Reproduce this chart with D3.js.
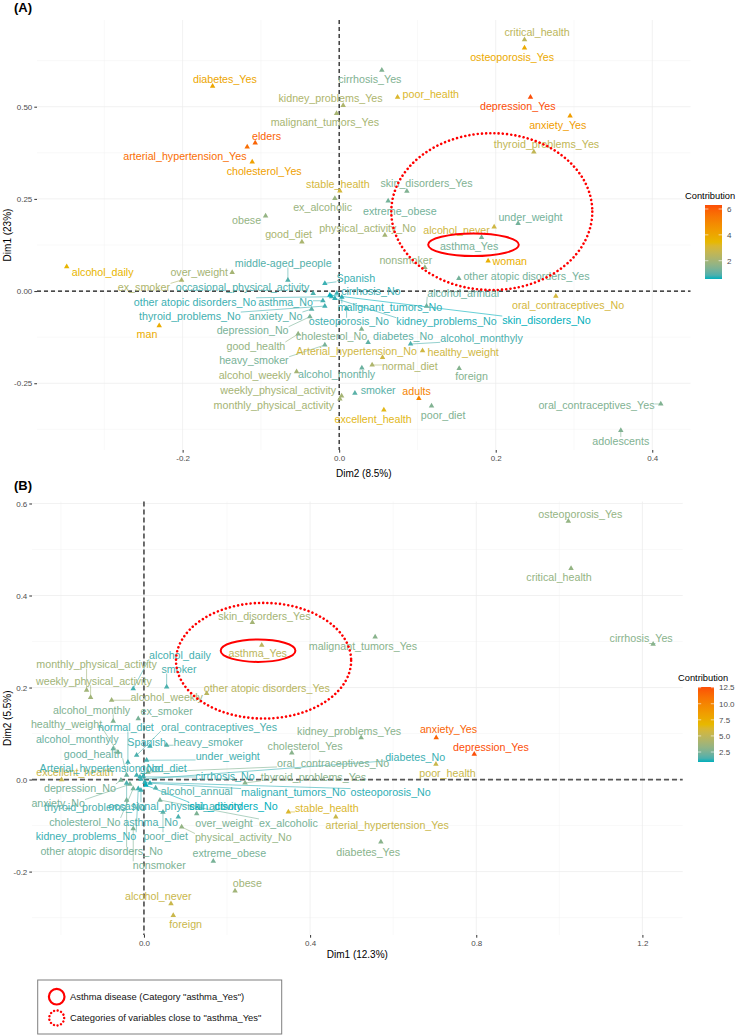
<!DOCTYPE html>
<html><head><meta charset="utf-8">
<script src="https://cdn.jsdelivr.net/npm/d3@7"></script>
<style>body{margin:0;background:#fff} text{font-family:"Liberation Sans",Arial,Helvetica,sans-serif}</style>
</head><body><svg id="chart" width="737" height="1036"></svg>
<script>
// ---------------- Panel A data (x = Dim2, y = Dim1) ----------------
const categoriesA = ["diabetes_Yes","cirrhosis_Yes","kidney_problems_Yes","poor_health","malignant_tumors_Yes","elders","arterial_hypertension_Yes","cholesterol_Yes","stable_health","critical_health","osteoporosis_Yes","depression_Yes","anxiety_Yes","thyroid_problems_Yes","skin_disorders_Yes","ex_alcoholic","obese","good_diet","physical_activity_No","extreme_obese","alcohol_daily","over_weight","middle-aged_people","ex_smoker","occasional_physical_activity","Spanish","cirrhosis_No","other atopic disorders_No","asthma_No","malignant_tumors_No","thyroid_problems_No","anxiety_No","osteoporosis_No","depression_No","kidney_problems_No","skin_disorders_No","cholesterol_No","diabetes_No","alcohol_monthyly","Arterial_hypertension_No","healthy_weight","good_health","heavy_smoker","normal_diet","foreign","alcohol_weekly","alcohol_monthly","weekly_physical_activity","monthly_physical_activity","smoker","adults","excellent_health","poor_diet","oral_contraceptives_Yes","adolescents","alcohol_never","under_weight","asthma_Yes","woman","nonsmoker","other atopic disorders_Yes","alcohol_annual","oral_contraceptives_No","man"];
const dim2A = [-0.1617,0.0545,0.0051,0.0746,-0.0033,-0.1073,-0.1175,-0.1111,0.0009,0.2368,0.2368,0.2444,0.295,0.2487,0.0865,-0.0055,-0.094,-0.0476,0.0584,0.0626,-0.3481,-0.1367,-0.0655,-0.2013,-0.0332,-0.0183,-0.0029,-0.0097,-0.0208,0.0034,-0.0183,-0.0352,0.0095,-0.0374,-0.0055,-0.0119,0.0286,0.037,0.0912,0.0554,0.1065,-0.0524,-0.0183,0.0421,0.1533,-0.0544,0.029,0.0031,0.0009,0.0201,0.1018,0.0571,0.118,0.4109,0.3598,0.198,0.2286,0.1819,0.1903,0.1095,0.1529,0.1116,0.2768,-0.2299];
const dim1A = [0.5556,0.5989,0.5033,0.5257,0.4816,0.4019,0.3911,0.3504,0.2718,0.6821,0.6593,0.5257,0.4751,0.3775,0.271,0.2512,0.2041,0.1336,0.1518,0.2447,0.0659,0.0507,0.0298,0.0298,-0.0062,0.0209,-0.0054,-0.0154,-0.0263,-0.0163,-0.0407,-0.0488,-0.0469,-0.0696,-0.0198,-0.0108,-0.103,-0.139,-0.1436,-0.1797,-0.1618,-0.1165,-0.1463,-0.2005,-0.2095,-0.2187,-0.2087,-0.2846,-0.2927,-0.2772,-0.2908,-0.3225,-0.3117,-0.3062,-0.378,0.1743,0.1835,0.1455,0.0821,0.0642,0.0344,-0.0407,-0.0136,-0.094];
const contribA = [4.02,1.44,2.19,3.16,2.07,5.85,5.62,4.19,2.99,2.47,3.91,6.31,4.31,2.59,1.44,1.84,1.73,2.13,2.02,1.27,3.56,2.02,0.93,2.19,0.87,0.76,0.76,0.76,0.81,0.70,0.81,0.99,0.81,1.33,0.70,0.585,1.50,1.04,0.87,2.88,2.88,1.73,1.33,2.19,1.50,2.02,1.16,2.02,2.02,0.99,5.05,3.33,1.44,1.44,1.44,2.88,1.27,1.33,3.73,1.73,1.27,1.16,2.99,3.85];
// label anchor positions (data units) as placed by the repel layout
const labelXA = [-0.146,0.0392,-0.011,0.1171,-0.0183,-0.0927,-0.1971,-0.0958,-0.0017,0.2529,0.221,0.2282,0.2793,0.2649,0.1116,-0.0212,-0.1183,-0.0646,0.0363,0.0775,-0.3022,-0.1788,-0.0715,-0.2494,-0.1234,0.0213,0.0405,-0.1843,-0.0685,0.0647,-0.1907,-0.0812,0.0124,-0.1106,0.1372,0.2649,-0.0097,0.0817,0.1819,0.0222,0.1584,-0.1064,-0.1089,0.0903,0.1691,-0.1077,-0.0033,-0.0779,-0.0834,0.0498,0.0989,0.0434,0.1328,0.3287,0.3598,0.1499,0.2444,0.166,0.218,0.0852,0.2393,0.1584,0.2925,-0.2456];
const labelYA = [0.5745,0.5745,0.523,0.5339,0.458,0.4209,0.3659,0.326,0.29,0.7019,0.635,0.5014,0.4499,0.3984,0.2919,0.2268,0.1924,0.1545,0.1699,0.2176,0.0507,0.0507,0.0751,0.01,0.01,0.036,0.0,-0.029,-0.029,-0.0442,-0.0678,-0.0678,-0.0832,-0.1076,-0.0832,-0.0786,-0.1238,-0.122,-0.1282,-0.1645,-0.1672,-0.149,-0.1889,-0.2051,-0.2322,-0.2276,-0.2257,-0.2702,-0.3089,-0.2683,-0.2729,-0.3477,-0.336,-0.3089,-0.4065,0.1653,0.2014,0.1228,0.0821,0.084,0.0415,-0.0046,-0.0398,-0.1173];
const xTicksA = [-0.2,0,0.2,0.4], xMinorA = [-0.3,-0.1,0.1,0.3];
const yTicksA = [-0.25,0,0.25,0.5], yMinorA = [-0.375,-0.125,0.125,0.375,0.625];
const legendTicksA = [2,4,6];

// ---------------- Panel B data (x = Dim1, y = Dim2) ----------------
const categoriesB = ["skin_disorders_Yes","asthma_Yes","malignant_tumors_Yes","alcohol_daily","osteoporosis_Yes","critical_health","cirrhosis_Yes","monthly_physical_activity","weekly_physical_activity","alcohol_weekly","smoker","other atopic disorders_Yes","alcohol_monthly","ex_smoker","healthy_weight","normal_diet","oral_contraceptives_Yes","alcohol_monthyly","Spanish","heavy_smoker","good_health","under_weight","kidney_problems_Yes","cholesterol_Yes","oral_contraceptives_No","diabetes_No","anxiety_Yes","depression_Yes","poor_health","cirrhosis_No","thyroid_problems_Yes","malignant_tumors_No","osteoporosis_No","alcohol_annual","excellent_health","Arterial_hypertension_No","good_diet","depression_No","anxiety_No","thyroid_problems_No","occasional_physical_activity","skin_disorders_No","stable_health","arterial_hypertension_Yes","cholesterol_No","asthma_No","over_weight","ex_alcoholic","physical_activity_No","poor_diet","kidney_problems_No","other atopic disorders_No","extreme_obese","nonsmoker","diabetes_Yes","obese","alcohol_never","foreign"];
const dim1B = [0.261,0.2836,0.5566,-0.0258,1.0217,1.0282,1.2258,-0.1381,-0.1284,-0.0778,0.0547,0.1511,-0.074,-0.0137,-0.0627,-0.0386,-0.0176,-0.074,0.0145,0.0547,-0.0417,0.0065,0.5229,0.3559,0.0096,-0.0072,0.7036,0.7952,0.7029,-0.0096,0.2434,0.0145,0.0024,0.0282,-0.1983,-0.0176,-0.0017,-0.0554,-0.0337,-0.0417,-0.0072,0.0048,0.3477,0.4619,-0.0258,0.0827,0.127,0.0386,0.0908,0.0458,-0.0137,-0.0417,0.167,-0.0258,0.5704,0.2193,0.0651,0.0706];
const dim2B = [0.3413,0.292,0.31,0.1978,0.5615,0.4587,0.2941,0.1941,0.1783,0.1724,0.2013,0.187,0.1267,0.1326,0.0593,0.0376,0.0528,0.0674,0.0724,0.0746,0.0093,0.042,0.0913,0.0578,0.0159,0.0007,0.0913,0.055,0.0333,0.0057,-0.0074,-0.008,-0.0059,-0.0183,0,0.0093,0.0072,-0.0015,-0.0102,-0.008,-0.0233,-0.0124,-0.0704,-0.0813,-0.0196,-0.0813,-0.0739,-0.0446,-0.103,-0.0711,-0.0196,-0.045,-0.1776,-0.1065,-0.1357,-0.2422,-0.2696,-0.295];
const contribB = [3.86,4.79,2.93,1.42,3.28,3.28,2.93,3.75,3.75,3.75,1.53,4.68,2.70,2.46,2.81,1.42,1.53,2.12,1.42,1.77,2.12,1.42,2.93,2.93,2.70,1.30,11.67,12.6,5.38,1.30,2.93,1.18,1.18,1.65,5.38,1.42,1.30,2.46,2.46,1.53,1.30,0.95,6.19,5.38,2.35,1.53,2.58,2.46,3.28,1.88,1.30,2.46,2.46,2.58,2.93,3.75,5.38,5.38];
const labelXB = [0.2899,0.274,0.5272,0.0867,1.0506,0.9993,1.1969,-0.114,-0.1205,0.0547,0.0843,0.2957,-0.126,0.0547,-0.1863,-0.0434,0.1807,-0.1607,0.0065,0.1549,-0.1222,0.2017,0.494,0.388,0.4554,0.653,0.7333,0.8354,0.7308,0.1952,0.408,0.3598,0.594,0.127,-0.1663,-0.106,0.0465,-0.1542,-0.2065,-0.1181,0.0747,0.2152,0.4402,0.5855,-0.1422,0.0161,0.1928,0.3477,0.2393,0.0523,-0.1398,-0.1019,0.2055,0.0369,0.5398,0.2489,0.0345,0.1005];
const labelYB = [0.3557,0.2739,0.2898,0.2702,0.5761,0.4391,0.3065,0.25,0.2137,0.1796,0.2391,0.1991,0.1507,0.1485,0.1202,0.113,0.1143,0.087,0.0817,0.0817,0.055,0.0513,0.1057,0.073,0.0361,0.0491,0.1087,0.0709,0.0143,0.0072,0.0057,-0.0283,-0.0283,-0.0254,0.0165,0.0252,0.0239,-0.0183,-0.0522,-0.0596,-0.058,-0.058,-0.063,-0.0993,-0.0922,-0.0922,-0.0943,-0.0943,-0.126,-0.1233,-0.1233,-0.1552,-0.1609,-0.1863,-0.1574,-0.2261,-0.253,-0.3152];
const xTicksB = [0,0.4,0.8,1.2], xMinorB = [-0.2,0.2,0.6,1.0];
const yTicksB = [-0.2,0,0.2,0.4,0.6], yMinorB = [-0.3,-0.1,0.1,0.3,0.5];
const legendTicksB = [2.5,5,7.5,10,12.5];

// highlighted regions (data units)
const asthmaRingA = {cx:0.1716, cy:0.1255, rx:0.0579, ry:0.0306};
const closeRingA  = {cx:0.195,  cy:0.2154, rx:0.1284, ry:0.2127};
const asthmaRingB = {cx:0.2747, cy:0.28,   rx:0.0899, ry:0.0243};
const closeRingB  = {cx:0.288,  cy:0.2583, rx:0.2108, ry:0.1257};

const svg = d3.select("#chart");
svg.append("rect").attr("width",737).attr("height",1036).attr("fill","#fff");

function expand(ext){const d=(ext[1]-ext[0])*0.05;return [ext[0]-d,ext[1]+d];}

function panel(o){
  const g = svg.append("g");
  const x = d3.scaleLinear().domain(expand(d3.extent(o.xs))).range([o.left,o.right]);
  const y = d3.scaleLinear().domain(expand(d3.extent(o.ys))).range([o.bottom,o.top]);
  const ext = d3.extent(o.cs);
  const col = d3.scaleLinear().domain([ext[0],(ext[0]+ext[1])/2,ext[1]])
     .range(["#00AFBB","#E7B800","#FC4E07"]).interpolate(d3.interpolateLab);
  // grid
  const grid = g.append("g");
  o.xMinor.forEach(v=>grid.append("line").attr("x1",x(v)).attr("x2",x(v)).attr("y1",o.top).attr("y2",o.bottom).attr("stroke","#f2f2f2").attr("stroke-width",0.5));
  o.yMinor.forEach(v=>grid.append("line").attr("y1",y(v)).attr("y2",y(v)).attr("x1",o.left).attr("x2",o.right).attr("stroke","#f2f2f2").attr("stroke-width",0.5));
  o.xTicks.forEach(v=>grid.append("line").attr("x1",x(v)).attr("x2",x(v)).attr("y1",o.top).attr("y2",o.bottom).attr("stroke","#ebebeb").attr("stroke-width",0.7));
  o.yTicks.forEach(v=>grid.append("line").attr("y1",y(v)).attr("y2",y(v)).attr("x1",o.left).attr("x2",o.right).attr("stroke","#ebebeb").attr("stroke-width",0.7));
  // axes
  const ax = g.append("g").attr("transform",`translate(0,${o.bottom})`)
    .call(d3.axisBottom(x).tickValues(o.xTicks).tickFormat(d=>d.toFixed(o.xDec)).tickSize(2.7).tickPadding(2.5));
  const ay = g.append("g").attr("transform",`translate(${o.left},0)`)
    .call(d3.axisLeft(y).tickValues(o.yTicks).tickFormat(d=>d.toFixed(o.yDec)).tickSize(2.7).tickPadding(2));
  [ax,ay].forEach(a=>{a.select(".domain").remove();a.selectAll("line").attr("stroke","#333");
    a.selectAll("text").attr("fill","#4d4d4d").style("font-size","8px").style("font-family","Liberation Sans, Arial, sans-serif");});
  // zero lines
  g.append("line").attr("x1",x(0)).attr("x2",x(0)).attr("y1",o.top).attr("y2",o.bottom)
    .attr("stroke",o.zeroColor).attr("stroke-width",o.zeroW).attr("stroke-dasharray",o.dash);
  g.append("line").attr("y1",y(0)).attr("y2",y(0)).attr("x1",o.left).attr("x2",o.right)
    .attr("stroke",o.zeroColor).attr("stroke-width",o.zeroW).attr("stroke-dasharray",o.dash);
  // labels (first, to measure), then segments and points
  const segG = g.append("g"), ptG = g.append("g"), lbG = g.append("g");
  o.names.forEach((n,i)=>{
    const c = col(o.cs[i]);
    const px = x(o.xs[i]), py = y(o.ys[i]);
    const lx = x(o.lxs[i]), ly = y(o.lys[i]);
    const t = lbG.append("text").attr("x",lx).attr("y",ly).attr("dy","0.35em")
      .attr("text-anchor","middle").attr("fill",c).style("font-size","10.7px").text(n);
    const bb = t.node().getBBox();
    const x0=bb.x, x1=bb.x+bb.width, y0=ly-4, y1=ly+4;
    const nx = Math.max(x0,Math.min(px,x1)), ny = Math.max(y0,Math.min(py,y1));
    const dist = Math.hypot(px-nx,py-ny);
    if(dist>6){
      segG.append("line").attr("x1",px).attr("y1",py).attr("x2",nx).attr("y2",ny)
        .attr("stroke",c).attr("stroke-width",0.6);
    }
    ptG.append("path").attr("d",d3.symbol(d3.symbolTriangle,13)())
      .attr("transform",`translate(${px},${py})`).attr("fill",c);
  });
  // axis titles
  g.append("text").attr("x",(o.left+o.right)/2).attr("y",o.xTitleY).attr("text-anchor","middle")
    .style("font-size","10px").attr("fill","#000").text(o.xTitle);
  g.append("text").attr("transform",`translate(11,${(o.top+o.bottom)/2}) rotate(-90)`).attr("text-anchor","middle")
    .style("font-size","10px").attr("fill","#000").text(o.yTitle);
  // tag
  g.append("text").attr("x",14).attr("y",o.tagY).style("font-size","13px").style("font-weight","bold").text(o.tag);
  // ellipses
  [[o.ring,"none",2],[o.close,"0.01 4.2",2.6]].forEach(([r,da,w])=>{
    g.append("ellipse").attr("cx",x(r.cx)).attr("cy",y(r.cy))
      .attr("rx",x(r.cx+r.rx)-x(r.cx)).attr("ry",y(r.cy)-y(r.cy+r.ry))
      .attr("fill","none").attr("stroke","#ff0000").attr("stroke-width",w)
      .attr("stroke-dasharray",da).attr("stroke-linecap","round");
  });
  // colour legend
  const L = o.legend;
  const gid = "grad"+o.tag.replace(/\W/g,"");
  const grad = svg.append("defs").append("linearGradient").attr("id",gid).attr("x1",0).attr("x2",0).attr("y1",1).attr("y2",0);
  d3.range(0,1.0001,0.05).forEach(f=>grad.append("stop").attr("offset",f).attr("stop-color",col(ext[0]+f*(ext[1]-ext[0]))));
  g.append("text").attr("x",L.x-20).attr("y",L.top-6).style("font-size","9.3px").attr("fill","#000").text("Contribution");
  g.append("rect").attr("x",L.x).attr("y",L.top).attr("width",L.w).attr("height",L.h).attr("fill",`url(#${gid})`);
  const ly = d3.scaleLinear().domain(ext).range([L.top+L.h,L.top]);
  o.legendTicks.forEach(v=>{
    g.append("line").attr("x1",L.x).attr("x2",L.x+L.w*0.2).attr("y1",ly(v)).attr("y2",ly(v)).attr("stroke","#fff").attr("stroke-width",0.6);
    g.append("line").attr("x1",L.x+L.w*0.8).attr("x2",L.x+L.w).attr("y1",ly(v)).attr("y2",ly(v)).attr("stroke","#fff").attr("stroke-width",0.6);
    g.append("text").attr("x",L.x+L.w+5).attr("y",ly(v)).attr("dy","0.35em").style("font-size","8px").attr("fill","#4d4d4d")
      .text(Number.isInteger(v)&&o.legendTicks.every(Number.isInteger)?String(v):v.toFixed(1));
  });
}

panel({tag:"(A)",tagY:12,names:categoriesA,xs:dim2A,ys:dim1A,cs:contribA,lxs:labelXA,lys:labelYA,
  left:37,right:690.5,top:20,bottom:450,xTicks:xTicksA,xMinor:xMinorA,yTicks:yTicksA,yMinor:yMinorA,xDec:1,yDec:2,
  zeroColor:"#111",zeroW:1.2,dash:"4,3",xTitle:"Dim2 (8.5%)",yTitle:"Dim1 (23%)",xTitleY:477,
  ring:asthmaRingA,close:closeRingA,legend:{x:705,top:205,w:17,h:74},legendTicks:legendTicksA});

panel({tag:"(B)",tagY:490,names:categoriesB,xs:dim1B,ys:dim2B,cs:contribB,lxs:labelXB,lys:labelYB,
  left:32,right:682.7,top:501.5,bottom:935,xTicks:xTicksB,xMinor:xMinorB,yTicks:yTicksB,yMinor:yMinorB,xDec:1,yDec:1,
  zeroColor:"#555",zeroW:1.7,dash:"5,3",xTitle:"Dim1 (12.3%)",yTitle:"Dim2 (5.5%)",xTitleY:958,
  ring:asthmaRingB,close:closeRingB,legend:{x:698,top:687,w:16,h:75},legendTicks:legendTicksB});

// bottom key box
const key = svg.append("g");
key.append("rect").attr("x",37.7).attr("y",980).attr("width",244).attr("height",54).attr("fill","#fff").attr("stroke","#7f7f7f").attr("stroke-width",1);
key.append("circle").attr("cx",56.7).attr("cy",996.7).attr("r",7.8).attr("fill","none").attr("stroke","#ff0000").attr("stroke-width",2.2);
key.append("circle").attr("cx",56.7).attr("cy",1018).attr("r",7.5).attr("fill","none").attr("stroke","#ff0000").attr("stroke-width",2.4).attr("stroke-dasharray","0.01 3.6").attr("stroke-linecap","round");
key.append("text").attr("x",70).attr("y",1000).style("font-size","9.4px").attr("fill","#111").text('Asthma disease (Category "asthma_Yes")');
key.append("text").attr("x",70).attr("y",1021.3).style("font-size","9.4px").attr("fill","#111").text('Categories of variables close to "asthma_Yes"');
</script></body></html>
